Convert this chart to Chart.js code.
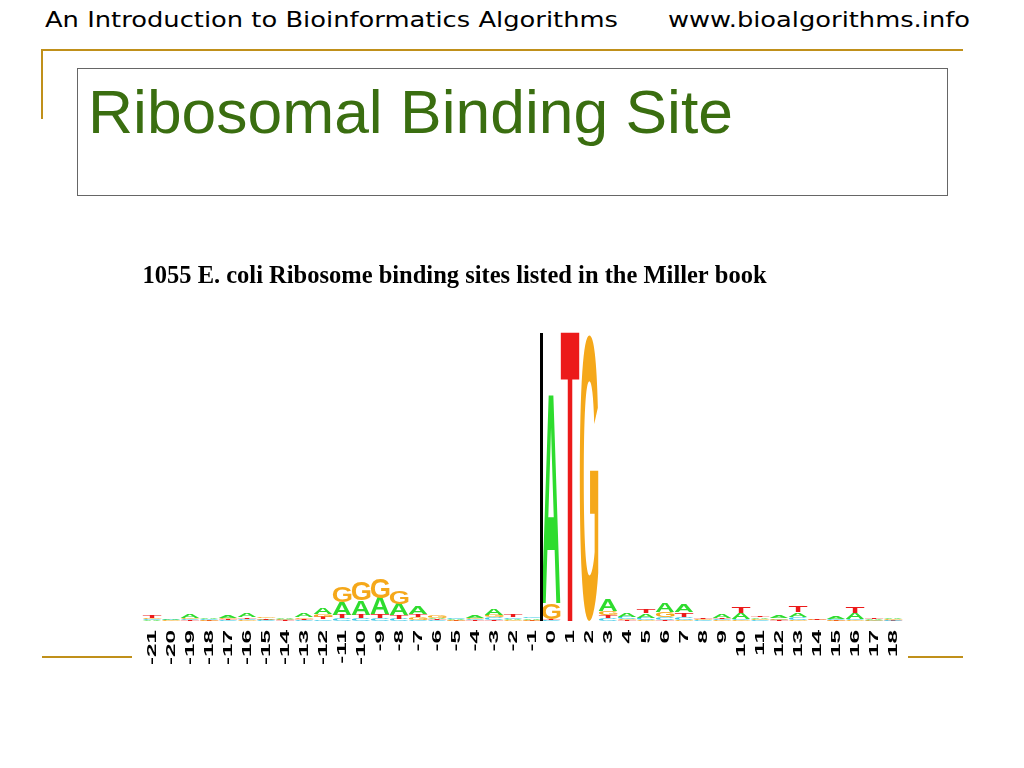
<!DOCTYPE html>
<html><head><meta charset="utf-8">
<script src="https://cdn.jsdelivr.net/npm/chart.js@4"></script>
<style>
html,body{margin:0;padding:0;background:#fff;width:1024px;height:768px;overflow:hidden;position:relative;}
.fit{position:absolute;white-space:nowrap;transform-origin:0 0;line-height:1;}
.hdr{font-family:"DejaVu Sans";font-size:22px;color:#000;top:9px;}
.line{position:absolute;background:#c0901a;}
#titlebox{position:absolute;left:77px;top:68px;width:871px;height:128px;border:1px solid #666;box-sizing:border-box;}
#title{font-family:"Liberation Sans";font-size:62px;color:#3a6e10;top:81px;left:88px;}
#chartwrap{position:absolute;left:132px;top:240px;width:776px;height:440px;background:#fff;}
</style>
</head><body>
<div class="fit hdr" style="left:45px" data-w="573">An Introduction to Bioinformatics Algorithms</div>
<div class="fit hdr" style="left:668px" data-w="302">www.bioalgorithms.info</div>
<div class="line" style="left:42px;top:49px;width:921px;height:2px"></div>
<div class="line" style="left:41px;top:49px;width:2px;height:70px"></div>
<div id="titlebox"></div>
<div class="fit" id="title" data-w="645">Ribosomal Binding Site</div>
<div class="line" style="left:42px;top:656px;width:921px;height:2px"></div>
<div id="chartwrap"><canvas id="c" width="776" height="440"></canvas></div>
<script>
// ---- data ----
const chartTitle = '1055 E. coli Ribosome binding sites listed in the Miller book';
const positions = ['-21','-20','-19','-18','-17','-16','-15','-14','-13','-12','-11','-10','-9','-8','-7','-6','-5','-4','-3','-2','-1','0','1','2','3','4','5','6','7','8','9','10','11','12','13','14','15','16','17','18'];
// information content (bits) per base at each position
const bitsA = [0.008,0.010,0.022,0.010,0.015,0.026,0.006,0.012,0.025,0.045,0.085,0.100,0.110,0.080,0.050,0.010,0.008,0.015,0.045,0.012,0.010,1.440,0.000,0.000,0.080,0.030,0.030,0.065,0.055,0.002,0.025,0.040,0.012,0.020,0.030,0.002,0.020,0.040,0.005,0.010];
const bitsC = [0.008,0.005,0.008,0.006,0.005,0.010,0.004,0.005,0.006,0.012,0.020,0.020,0.020,0.015,0.010,0.005,0.008,0.008,0.015,0.012,0.012,0.005,0.000,0.000,0.020,0.015,0.015,0.020,0.020,0.004,0.008,0.012,0.005,0.006,0.020,0.002,0.006,0.012,0.003,0.004];
const bitsG = [0.008,0.003,0.008,0.004,0.008,0.006,0.012,0.006,0.012,0.020,0.110,0.125,0.140,0.090,0.020,0.015,0.005,0.010,0.020,0.005,0.005,0.110,0.000,1.980,0.030,0.008,0.008,0.035,0.010,0.005,0.005,0.004,0.008,0.010,0.010,0.004,0.004,0.005,0.004,0.006];
const bitsT = [0.015,0.002,0.005,0.003,0.006,0.010,0.010,0.004,0.008,0.015,0.025,0.025,0.030,0.025,0.020,0.008,0.003,0.005,0.010,0.015,0.003,0.010,2.000,0.000,0.020,0.005,0.030,0.010,0.030,0.008,0.008,0.040,0.012,0.004,0.040,0.010,0.003,0.040,0.006,0.003];
const startMarker = '0';
const bases = [
  {letter:'A', bits:bitsA, color:'#2edc2e'},
  {letter:'C', bits:bitsC, color:'#3cc8e6'},
  {letter:'G', bits:bitsG, color:'#f5a81a'},
  {letter:'T', bits:bitsT, color:'#ec1a1a'}
];

// fit slide text widths
document.querySelectorAll('.fit[data-w]').forEach(el=>{
  const w = el.getBoundingClientRect().width;
  const t = +el.dataset.w;
  el.style.transform = 'scaleX(' + (t / w) + ')';
});

// build stacked datasets by rank (smallest at bottom) for each column
const datasets = [0,1,2,3].map(rank => ({
  data: [], letters: [], glyphColors: [],
  backgroundColor: 'rgba(0,0,0,0)', borderWidth: 0,
  barPercentage: 1.0, categoryPercentage: 0.97
}));
positions.forEach((p, i) => {
  const col = bases.map(b => ({letter:b.letter, v:b.bits[i], color:b.color})).sort((a,b)=>a.v-b.v);
  col.forEach((e, r) => {
    datasets[r].data.push(e.v);
    datasets[r].letters.push(e.letter);
    datasets[r].glyphColors.push(e.color);
  });
});

// exact ink bounds of each glyph, found by rendering it once off-screen
const GLYPH_FONT = 'bold 400px "Liberation Sans"';
const glyphCache = {};
function glyphBox(letter){
  if (glyphCache[letter]) return glyphCache[letter];
  const S = 600, ox = 100, oy = 480;
  const cv = document.createElement('canvas');
  cv.width = S; cv.height = S;
  const c = cv.getContext('2d');
  c.font = GLYPH_FONT;
  c.fillStyle = '#000';
  c.textBaseline = 'alphabetic';
  c.fillText(letter, ox, oy);
  const d = c.getImageData(0, 0, S, S).data;
  let x0 = S, x1 = -1, y0 = S, y1 = -1;
  for (let yy = 0; yy < S; yy++) for (let xx = 0; xx < S; xx++) {
    if (d[(yy*S + xx)*4 + 3] > 127) {
      if (xx < x0) x0 = xx; if (xx > x1) x1 = xx;
      if (yy < y0) y0 = yy; if (yy > y1) y1 = yy;
    }
  }
  return glyphCache[letter] = {l: ox - x0, r: x1 + 1 - ox, a: oy - y0, d: y1 + 1 - oy};
}

const logoPlugin = {
  id: 'logo',
  afterDatasetsDraw(chart){
    const ctx = chart.ctx;
    chart.data.datasets.forEach((ds, di) => {
      const meta = chart.getDatasetMeta(di);
      meta.data.forEach((bar, i) => {
        const {x, y, base, width} = bar.getProps(['x','y','base','width'], true);
        const h = base - y;
        if (h < 0.4) return;
        const letter = ds.letters[i];
        const g = glyphBox(letter);
        const gw = g.l + g.r, gh = g.a + g.d;
        ctx.save();
        ctx.translate(x - width/2, y);
        ctx.scale(width / gw, h / gh);
        ctx.font = GLYPH_FONT;
        ctx.textAlign = 'left';
        ctx.textBaseline = 'alphabetic';
        ctx.fillStyle = ds.glyphColors[i];
        ctx.fillText(letter, g.l, g.a);
        ctx.restore();
      });
    });
    // start marker line between -1 and 0
    const xs = chart.scales.x;
    const idx = chart.data.labels.indexOf(startMarker);
    const mx = (xs.getPixelForValue(idx - 1) + xs.getPixelForValue(idx)) / 2;
    ctx.save();
    ctx.strokeStyle = '#000';
    ctx.lineWidth = 3;
    ctx.beginPath();
    ctx.moveTo(mx, chart.chartArea.top);
    ctx.lineTo(mx, chart.chartArea.bottom);
    ctx.stroke();
    ctx.restore();
  },
  afterDraw(chart){
    // position labels, rotated and stretched like the original
    const ctx = chart.ctx;
    const xs = chart.scales.x;
    ctx.save();
    ctx.font = 'bold 13.5px "Liberation Sans"';
    ctx.fillStyle = '#000';
    ctx.textAlign = 'right';
    ctx.textBaseline = 'middle';
    chart.data.labels.forEach((lab, i) => {
      const px = xs.getPixelForValue(i);
      ctx.save();
      ctx.translate(px, chart.chartArea.bottom + 9);
      ctx.rotate(-Math.PI/2);
      ctx.scale(1.8, 1);
      ctx.fillText(lab, 0, 0);
      ctx.restore();
    });
    ctx.restore();
  }
};

new Chart(document.getElementById('c'), {
  type: 'bar',
  data: { labels: positions, datasets },
  options: {
    responsive: false,
    animation: false,
    layout: { padding: { left: 10.5, right: 5.5, top: 0, bottom: 59 } },
    plugins: {
      legend: { display: false },
      tooltip: { enabled: false },
      title: {
        display: true, text: chartTitle, align: 'start', color: '#000',
        font: { family: '"Liberation Serif"', size: 24.5, weight: 'bold' },
        padding: { top: 22, bottom: 41.6 }
      }
    },
    scales: {
      x: { stacked: true, display: false },
      y: { stacked: true, display: false, min: 0, max: 2 }
    }
  },
  plugins: [logoPlugin]
});
</script>
</body></html>
